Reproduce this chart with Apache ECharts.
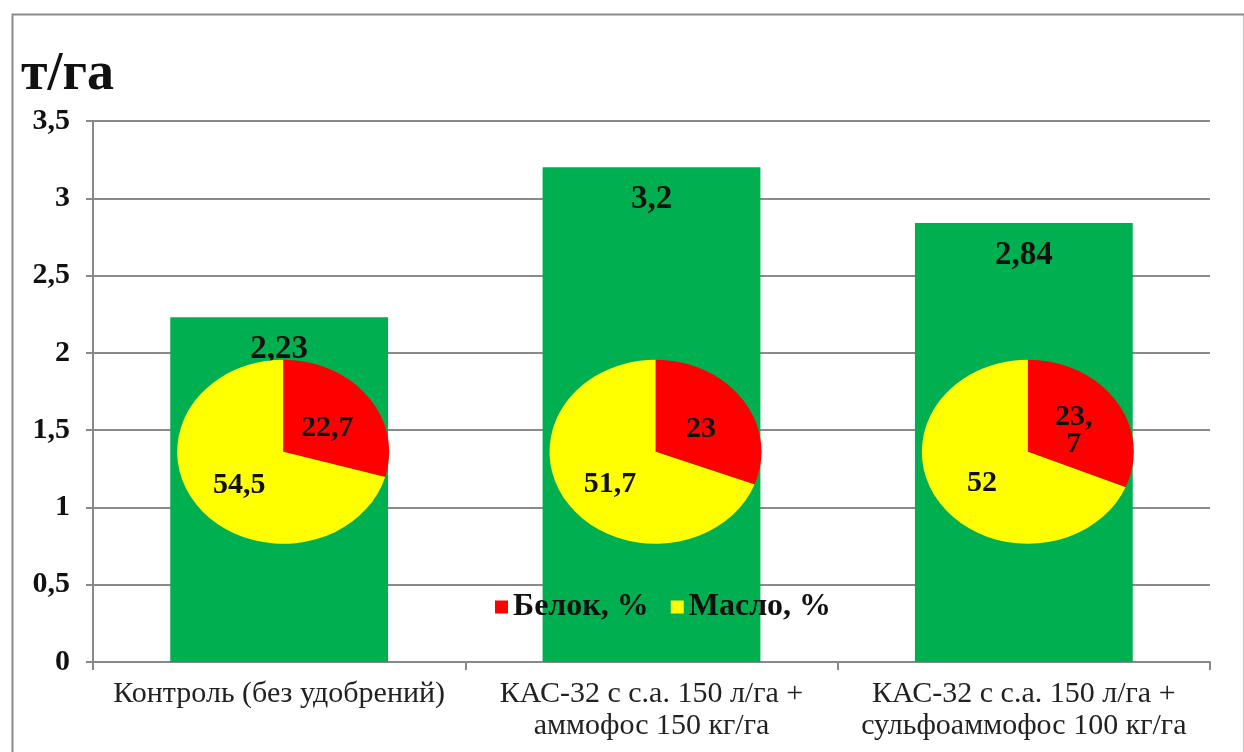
<!DOCTYPE html>
<html lang="ru">
  <head>
    <meta charset="UTF-8" />
    <title>Урожайность, белок и масло</title>
    <script src="https://cdn.jsdelivr.net/npm/echarts@6/dist/echarts.min.js"></script>
    <style>
      * { margin: 0; padding: 0; box-sizing: border-box; }
      body { overflow: hidden; background: #fff; }
      #chart { width: 1244px; height: 752px; }
    </style>
  </head>
  <body>
    <div id="chart"></div>
    <script>
      // данные
      const categories = [
        "Контроль (без удобрений)",
        "КАС-32 с с.а. 150 л/га +\nаммофос 150 кг/га",
        "КАС-32 с с.а. 150 л/га +\nсульфоаммофос 100 кг/га",
      ];
      const yieldValues = [2.23, 3.2, 2.84];
      const proteinValues = [22.7, 23, 23.7];
      const oilValues = [54.5, 51.7, 52];

      const SERIF = "'Liberation Serif', 'Times New Roman', serif";
      const pieCenterY = 1.36; // центр круговых диаграмм по оси Y
      const rx = 106, ry = 92;

      const fmt = (v) => String(v).replace(".", ",");

      function renderPie(isProtein, color) {
        return function (params, api) {
          const i = api.value(0);
          const p = api.value(1);
          const o = api.value(2);
          const c = api.coord([i, pieCenterY]);
          const cx = c[0] + 4;
          const cy = c[1];
          const frac = p / (p + o);
          const top = -Math.PI / 2;
          const start = isProtein ? top : top + frac * 2 * Math.PI;
          const end = isProtein ? top + frac * 2 * Math.PI : top + 2 * Math.PI;
          const mid = (start + end) / 2;
          let text = fmt(isProtein ? p : o);
          // в третьей подписи Excel перенёс строку
          if (isProtein && i === 2) text = text.replace(",", ",\n");
          return {
            type: "group",
            children: [
              {
                type: "group",
                x: cx,
                y: cy,
                scaleY: ry / rx,
                children: [
                  {
                    type: "sector",
                    shape: { cx: 0, cy: 0, r0: 0, r: rx, startAngle: start, endAngle: end, clockwise: true },
                    style: { fill: color },
                  },
                ],
              },
              {
                type: "text",
                x: cx + Math.cos(mid) * rx * 0.52,
                y: cy + Math.sin(mid) * ry * 0.52 + 5,
                style: {
                  text: text,
                  fill: "#111",
                  font: "bold 30px " + SERIF,
                  align: "center",
                  verticalAlign: "middle",
                  lineHeight: 27,
                },
              },
            ],
          };
        };
      }

      const pieData = categories.map((_, i) => [i, proteinValues[i], oilValues[i]]);

      const myChart = echarts.init(document.getElementById("chart"));

      const option = {
        animation: false,
        title: {
          text: "т/га",
          left: 16,
          top: 43,
          textStyle: { fontFamily: SERIF, fontWeight: "bold", fontSize: 54, color: "#111" },
        },
        graphic: [
          {
            type: "rect",
            left: 10,
            top: 12,
            shape: { width: 1232, height: 760 },
            style: { fill: "none", stroke: "#8a8a8a", lineWidth: 2 },
            silent: true,
          },
        ],
        legend: {
          data: ["Белок, %", "Масло, %"],
          left: 490,
          top: 586,
          icon: "rect",
          itemWidth: 13,
          itemHeight: 13,
          itemGap: 22,
          textStyle: { fontFamily: SERIF, fontWeight: "bold", fontSize: 32, color: "#111" },
        },
        grid: { left: 93, right: 34, top: 121, bottom: 90 },
        xAxis: {
          type: "category",
          data: categories,
          axisLine: { lineStyle: { color: "#888", width: 2 } },
          axisTick: { show: true, length: 8, lineStyle: { color: "#888", width: 2 } },
          axisLabel: {
            fontFamily: SERIF,
            fontSize: 30,
            color: "#222",
            lineHeight: 32,
            margin: 16,
            interval: 0,
          },
        },
        yAxis: {
          type: "value",
          min: 0,
          max: 3.5,
          interval: 0.5,
          axisLine: { show: true, lineStyle: { color: "#888", width: 2 } },
          axisTick: { show: true, length: 7, lineStyle: { color: "#888", width: 2 } },
          splitLine: { lineStyle: { color: "#8a8a8a", width: 2 } },
          axisLabel: {
            fontFamily: SERIF,
            fontWeight: "bold",
            fontSize: 30,
            color: "#111",
            margin: 23,
            formatter: (v) => fmt(v),
          },
        },
        series: [
          {
            name: "Урожайность",
            type: "bar",
            data: yieldValues,
            barWidth: "58.5%",
            itemStyle: { color: "#00B050" },
            label: {
              show: true,
              position: "insideTop",
              distance: 16,
              fontFamily: SERIF,
              fontWeight: "bold",
              fontSize: 33,
              color: "#111",
              formatter: (p) => fmt(p.value),
            },
          },
          {
            name: "Белок, %",
            type: "custom",
            data: pieData,
            encode: { x: 0, y: -1 },
            itemStyle: { color: "#FF0000" },
            renderItem: renderPie(true, "#FF0000"),
            z: 3,
          },
          {
            name: "Масло, %",
            type: "custom",
            data: pieData,
            encode: { x: 0, y: -1 },
            itemStyle: { color: "#FFFF00" },
            renderItem: renderPie(false, "#FFFF00"),
            z: 3,
          },
        ],
      };

      myChart.setOption(option);
    </script>
  </body>
</html>
